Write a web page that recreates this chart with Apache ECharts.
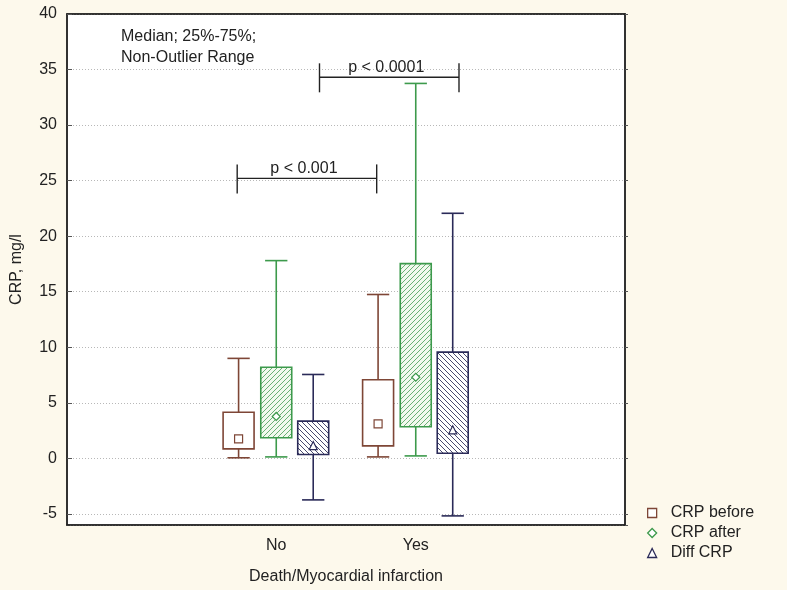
<!DOCTYPE html>
<html>
<head>
<meta charset="utf-8">
<script src="https://cdn.jsdelivr.net/npm/echarts@6/dist/echarts.min.js"></script>
<style>
html,body{margin:0;padding:0;background:#fdf9ec;}
#main{width:787px;height:590px;}
</style>
</head>
<body>
<div id="main"></div>
<script>
// ---- data ----
const categories = [' ', 'No', 'Yes', '  '];
const groups = ['No', 'Yes'];
// [whisker low, q1, median, q3, whisker high]
const crpBefore = [[0.05, 0.85, 1.75, 4.15, 9.0], [0.13, 1.12, 3.1, 7.07, 14.75]];
const crpAfter  = [[0.13, 1.85, 3.77, 8.2, 17.8], [0.22, 2.84, 7.3, 17.53, 33.75]];
const diffCrp   = [[-3.74, 0.34, 1.15, 3.35, 7.55], [-5.18, 0.46, 2.57, 9.56, 22.06]];
const seriesNames = ['CRP before', 'CRP after', 'Diff CRP'];
const yTicks = [-5, 0, 5, 10, 15, 20, 25, 30, 35, 40];
// significance brackets
const bracketLeft = ['No', 'No'];
const bracketRight = ['Yes', 'Yes'];
const bracketY = [25.2, 34.3];
const bracketLabel = ['p < 0.001', 'p < 0.0001'];

// ---- styling helpers ----
const FONT = '"Liberation Sans", Arial, sans-serif';
const FS = 16;
const colBefore = '#7e4636', colAfter = '#3d9a4c', colDiff = '#2a2a58';
const offsets = [-0.27, 0, 0.265];
const bracketOff = [-0.28, 0.31];

function hatch(fg, bg, dir, size, lw) {
  const c = document.createElement('canvas');
  c.width = c.height = size;
  const g = c.getContext('2d');
  g.fillStyle = bg; g.fillRect(0, 0, size, size);
  g.strokeStyle = fg; g.lineWidth = lw;
  g.beginPath();
  if (dir > 0) {
    g.moveTo(-1, size + 1); g.lineTo(size + 1, -1);
    g.moveTo(-1, 1); g.lineTo(1, -1);
    g.moveTo(size - 1, size + 1); g.lineTo(size + 1, size - 1);
  } else {
    g.moveTo(-1, -1); g.lineTo(size + 1, size + 1);
    g.moveTo(size - 1, -1); g.lineTo(size + 1, 1);
    g.moveTo(-1, size - 1); g.lineTo(1, size + 1);
  }
  g.stroke();
  return c;
}
const fillBefore = '#ffffff';
const fillAfter = {image: hatch('#5aa766', '#f2f9ee', 1, 5, 0.9), repeat: 'repeat'};
const fillDiff = {image: hatch('#35355f', '#ffffff', -1, 5, 0.9), repeat: 'repeat'};

function markerShape(kind, cx, cy, color) {
  const s = 4;
  const style = {stroke: color, fill: '#fff', lineWidth: 1.2};
  if (kind === 'square') return {type: 'rect', shape: {x: cx - s, y: cy - s, width: 2 * s, height: 2 * s}, style};
  if (kind === 'diamond') return {type: 'polygon', shape: {points: [[cx, cy - s], [cx + s, cy], [cx, cy + s], [cx - s, cy]]}, style};
  return {type: 'polygon', shape: {points: [[cx, cy - s], [cx + s, cy + s], [cx - s, cy + s]]}, style};
}

function boxRender(idx, color, fill, kind) {
  return function (params, api) {
    const x = api.value(0);
    const band = api.size([1, 0])[0];
    const lo = api.coord([x, api.value(1)]);
    const q1 = api.coord([x, api.value(2)]);
    const md = api.coord([x, api.value(3)]);
    const q3 = api.coord([x, api.value(4)]);
    const hi = api.coord([x, api.value(5)]);
    const cx = lo[0] + offsets[idx] * band;
    const bw = 0.222 * band, cw = 0.16 * band;
    const ls = {stroke: color, lineWidth: 1.6};
    return {
      type: 'group',
      children: [
        {type: 'line', shape: {x1: cx, y1: hi[1], x2: cx, y2: q3[1]}, style: ls},
        {type: 'line', shape: {x1: cx, y1: q1[1], x2: cx, y2: lo[1]}, style: ls},
        {type: 'line', shape: {x1: cx - cw / 2, y1: hi[1], x2: cx + cw / 2, y2: hi[1]}, style: ls},
        {type: 'line', shape: {x1: cx - cw / 2, y1: lo[1], x2: cx + cw / 2, y2: lo[1]}, style: ls},
        {type: 'rect', shape: {x: cx - bw / 2, y: q3[1], width: bw, height: q1[1] - q3[1]},
          style: {fill: fill, stroke: color, lineWidth: 1.6}},
        markerShape(kind, cx, md[1], color)
      ]
    };
  };
}

function toData(arr) {
  return arr.map((v, i) => [groups[i]].concat(v));
}

const bracketData = bracketY.map((y, i) => [categories.indexOf(bracketLeft[i]), y, categories.indexOf(bracketRight[i])]);

const chart = echarts.init(document.getElementById('main'), null, {renderer: 'canvas'});
const axisLineStyle = {color: '#222', width: 1.5};
chart.setOption({
  backgroundColor: '#fdf9ec',
  animation: false,
  textStyle: {fontFamily: FONT},
  title: {
    text: 'Median; 25%-75%;\nNon-Outlier Range',
    left: 121, top: 26, padding: 0,
    textStyle: {fontSize: FS, fontWeight: 'normal', color: '#222', lineHeight: 21, fontFamily: FONT}
  },
  grid: {left: 67, right: 162, top: 14, bottom: 65, show: true, backgroundColor: '#fff', borderColor: '#333', borderWidth: 1.5},
  legend: {
    orient: 'vertical', left: 642, top: 500,
    itemWidth: 9, itemHeight: 9, itemGap: 4,
    textStyle: {fontSize: FS, color: '#222', fontFamily: FONT, padding: [0, 0, 0, 9], lineHeight: 16},
    data: [
      {name: seriesNames[0], icon: 'rect', itemStyle: {color: '#fff', borderColor: colBefore, borderWidth: 1.3}},
      {name: seriesNames[1], icon: 'diamond', itemStyle: {color: '#fff', borderColor: colAfter, borderWidth: 1.3}},
      {name: seriesNames[2], icon: 'triangle', itemStyle: {color: '#fff', borderColor: colDiff, borderWidth: 1.3}}
    ]
  },
  xAxis: [{
    type: 'category', data: categories, boundaryGap: true,
    name: 'Death/Myocardial infarction', nameLocation: 'middle', nameGap: 44,
    nameTextStyle: {fontSize: FS, color: '#222', fontFamily: FONT},
    axisLine: {onZero: false, lineStyle: axisLineStyle},
    axisTick: {alignWithLabel: true, inside: true, length: 5, lineStyle: {color: '#555'}},
    axisLabel: {fontSize: FS, color: '#222', margin: 13, fontFamily: FONT},
    splitLine: {show: false}
  }, {
    type: 'category', data: categories, boundaryGap: true, position: 'top',
    axisLine: {onZero: false, lineStyle: axisLineStyle},
    axisTick: {alignWithLabel: true, inside: true, length: 5, lineStyle: {color: '#555'}},
    axisLabel: {show: false}
  }],
  yAxis: [{
    type: 'value', min: -6, max: 40, minInterval: 5, maxInterval: 5,
    name: 'CRP, mg/l', nameLocation: 'middle', nameGap: 42,
    nameTextStyle: {fontSize: FS, color: '#222', fontFamily: FONT},
    axisLine: {show: true, onZero: false, lineStyle: axisLineStyle},
    axisTick: {show: true, inside: true, length: 5, lineStyle: {color: '#555'}},
    axisLabel: {fontSize: FS, color: '#222', margin: 10, showMinLabel: false, fontFamily: FONT,
      formatter: v => (yTicks.indexOf(v) >= 0 ? String(v) : '')},
    splitLine: {show: true, lineStyle: {color: '#b8b8b8', type: [1, 2], width: 1}}
  }, {
    type: 'value', min: -6, max: 40, minInterval: 5, maxInterval: 5, position: 'right',
    axisLine: {show: true, onZero: false, lineStyle: axisLineStyle},
    axisTick: {show: true, inside: false, length: 3, lineStyle: {color: '#555'}},
    axisLabel: {show: false}, splitLine: {show: false}
  }],
  series: [
    {name: seriesNames[0], type: 'custom', renderItem: boxRender(0, colBefore, fillBefore, 'square'),
      encode: {x: 0, y: [1, 2, 3, 4, 5]}, data: toData(crpBefore), z: 3},
    {name: seriesNames[1], type: 'custom', renderItem: boxRender(1, colAfter, fillAfter, 'diamond'),
      encode: {x: 0, y: [1, 2, 3, 4, 5]}, data: toData(crpAfter), z: 3},
    {name: seriesNames[2], type: 'custom', renderItem: boxRender(2, colDiff, fillDiff, 'triangle'),
      encode: {x: 0, y: [1, 2, 3, 4, 5]}, data: toData(diffCrp), z: 3},
    {name: 'brackets', type: 'custom', z: 4,
      encode: {x: [0, 2], y: 1},
      data: bracketData,
      renderItem: function (params, api) {
        const i = params.dataIndex;
        const band = api.size([1, 0])[0];
        const l = api.coord([api.value(0), api.value(1)]);
        const r = api.coord([api.value(2), api.value(1)]);
        const x1 = l[0] + bracketOff[i] * band, x2 = r[0] + bracketOff[i] * band, y = l[1];
        const ls = {stroke: '#222', lineWidth: 1.4};
        return {type: 'group', children: [
          {type: 'line', shape: {x1: x1, y1: y, x2: x2, y2: y}, style: ls},
          {type: 'line', shape: {x1: x1, y1: y - 14, x2: x1, y2: y + 15}, style: ls},
          {type: 'line', shape: {x1: x2, y1: y - 14, x2: x2, y2: y + 15}, style: ls},
          {type: 'text', style: {text: bracketLabel[i], x: (x1 + x2) / 2 - 3, y: y - 10,
            align: 'center', verticalAlign: 'middle', font: FS + 'px ' + FONT, fill: '#222'}}
        ]};
      }
    }
  ]
});
</script>
</body>
</html>
